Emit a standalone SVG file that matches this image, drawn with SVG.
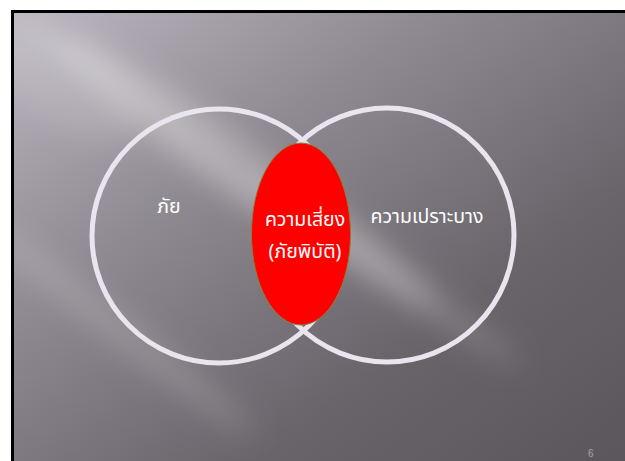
<svg xmlns="http://www.w3.org/2000/svg" width="625" height="461" viewBox="0 0 625 461">
<defs>
<linearGradient id="bg" x1="0" y1="0" x2="1" y2="1">
<stop offset="0" stop-color="#bbb6bf"/>
<stop offset="0.35" stop-color="#8e8990"/>
<stop offset="0.7" stop-color="#69646a"/>
<stop offset="1" stop-color="#5a565b"/>
</linearGradient>
<filter id="blur" x="-50%" y="-50%" width="200%" height="200%"><feGaussianBlur stdDeviation="14"/></filter>
<clipPath id="slide"><rect x="14" y="13" width="611" height="448"/></clipPath>
<style>
.ring{fill:none;stroke:#e9e5ef;stroke-width:5}
.lbl{font-family:"Noto Sans","Noto Sans Thai","Liberation Sans",sans-serif;font-size:19.5px;fill:#ffffff;text-anchor:middle}
</style>
</defs>
<rect x="0" y="0" width="625" height="461" fill="#ffffff"/>
<rect x="11" y="10" width="614" height="451" fill="#000000"/>
<rect x="14" y="13" width="611" height="448" fill="url(#bg)"/>
<g clip-path="url(#slide)" filter="url(#blur)" fill="#ffffff">
<ellipse cx="250" cy="170" rx="230" ry="22" opacity="0.24" transform="rotate(36 250 170)"/>
<ellipse cx="150" cy="120" rx="160" ry="16" opacity="0.2" transform="rotate(38 150 120)"/>
<ellipse cx="380" cy="270" rx="170" ry="14" opacity="0.16" transform="rotate(34 380 270)"/>
<ellipse cx="120" cy="330" rx="170" ry="16" opacity="0.15" transform="rotate(38 120 330)"/>
<ellipse cx="60" cy="80" rx="90" ry="40" opacity="0.12" transform="rotate(38 60 80)"/>
</g>
<g id="hazard">
<circle class="ring" cx="219" cy="236" r="127"/>
<text class="lbl" x="169" y="213">ภัย</text>
</g>
<g id="vulnerability">
<circle class="ring" cx="387" cy="235" r="127"/>
<text class="lbl" x="427" y="223">ความเปราะบาง</text>
</g>
<g id="risk">
<ellipse cx="301" cy="234" rx="49.5" ry="91" fill="#ff0000" stroke="#8c7f3c" stroke-width="1"/>
<text class="lbl" x="305" y="226">ความเสี่ยง</text>
<text class="lbl" x="305" y="258">(ภัยพิบัติ)</text>
</g>
<g id="connectors"/>
<text x="588" y="457" font-family="Liberation Sans, sans-serif" font-size="10" fill="#a8a4ac">6</text>
</svg>
